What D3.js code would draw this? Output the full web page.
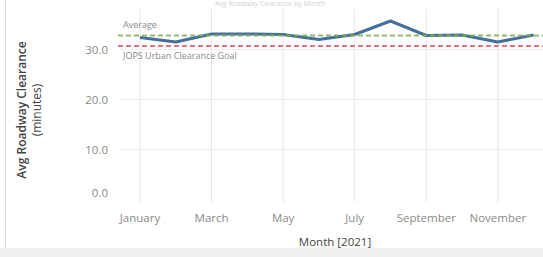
<!DOCTYPE html>
<html><head><meta charset="utf-8">
<script src="https://cdn.jsdelivr.net/npm/d3@7"></script>
<style>
html,body{margin:0;padding:0;background:#fff;}
svg{display:block;font-family:"Open Sans","Noto Sans",sans-serif;}
</style></head>
<body>
<svg id="chart" width="543" height="257"></svg>
<script>
const months = ["January","February","March","April","May","June","July","August","September","October","November","December"];
const clearance = [32.4, 31.5, 33.1, 33.1, 33.0, 32.0, 33.0, 35.7, 32.8, 32.9, 31.5, 32.9];
const averageValue = 32.8;
const goalValue = 30.7;
const yTicks = [0, 10, 20, 30];
const xTickMonths = ["January","March","May","July","September","November"];

const svg = d3.select("#chart");
const W = 543, H = 257;

// frame pieces
svg.append("rect").attr("x",0).attr("y",248).attr("width",W).attr("height",H-248).attr("fill","#f0f0f0");
svg.append("line").attr("x1",5.5).attr("x2",5.5).attr("y1",0).attr("y2",248).attr("stroke","#dcdcdc");

// faint title at the top
svg.append("text").attr("x",270).attr("y",6).attr("text-anchor","middle")
  .attr("font-size",7).attr("fill","#d4d4d4").text("Avg Roadway Clearance by Month");

const x = d3.scalePoint().domain(months).range([140, 533.6]);
const y = d3.scaleLinear().domain([0, 30]).range([199.5, 49.5]);

// vertical gridlines
svg.append("g").selectAll("line").data(xTickMonths).join("line")
  .attr("x1", d=>x(d)).attr("x2", d=>x(d)).attr("y1", 9).attr("y2", 202)
  .attr("stroke","#e6e6e6").attr("stroke-width",1);

// horizontal gridlines
svg.append("g").selectAll("line").data(yTicks.filter(t=>t>0)).join("line")
  .attr("x1", 120).attr("x2", W).attr("y1", d=>y(d)).attr("y2", d=>y(d))
  .attr("stroke","#ececec").attr("stroke-width",1);

// y tick labels
svg.append("g").selectAll("text").data(yTicks).join("text")
  .attr("x", 108).attr("y", d=> d===0 ? y(d)-7 : y(d))
  .attr("dy","0.35em").attr("text-anchor","end")
  .attr("font-size",11.5).attr("fill","#8a8a8a")
  .text(d=>d3.format(".1f")(d));

// x tick labels
svg.append("g").selectAll("text").data(xTickMonths).join("text")
  .attr("x", d=>x(d)).attr("y", 218).attr("dy","0.35em").attr("text-anchor","middle")
  .attr("font-size",11.5).attr("fill","#8a8a8a").text(d=>d);

// axis titles
svg.append("text").attr("x",335).attr("y",246).attr("text-anchor","middle")
  .attr("font-size",11.5).attr("fill","#444").text("Month [2021]");
const yt = svg.append("text").attr("transform","translate(26,110) rotate(-90)")
  .attr("text-anchor","middle").attr("font-size",12).attr("fill","#444").attr("font-weight",600);
yt.append("tspan").attr("x",0).attr("dy",0).text("Avg Roadway Clearance");
yt.append("tspan").attr("x",0).attr("dy",15).attr("font-weight",500).text("(minutes)");

// reference lines
svg.append("line").attr("x1",118).attr("x2",W).attr("y1",y(goalValue)).attr("y2",y(goalValue))
  .attr("stroke","#e8757c").attr("stroke-width",2).attr("stroke-dasharray","5,3");

// data line
const line = d3.line().x((d,i)=>x(months[i])).y(d=>y(d));
svg.append("path").datum(clearance).attr("d",line).attr("fill","none")
  .attr("stroke","#43709c").attr("stroke-width",3).attr("stroke-linejoin","round");

svg.append("line").attr("x1",118).attr("x2",W).attr("y1",y(averageValue)).attr("y2",y(averageValue))
  .attr("stroke","#7fae4f").attr("stroke-width",2).attr("stroke-dasharray","5,3").attr("opacity",0.85);

// reference labels
svg.append("text").attr("x",123).attr("y",y(averageValue)-8).attr("font-size",9).attr("fill","#8a8a8a").text("Average");
svg.append("text").attr("x",123).attr("y",y(goalValue)+10).attr("dy","0.35em").attr("font-size",9).attr("fill","#8a8a8a").text("JOPS Urban Clearance Goal");
</script>
</body></html>
